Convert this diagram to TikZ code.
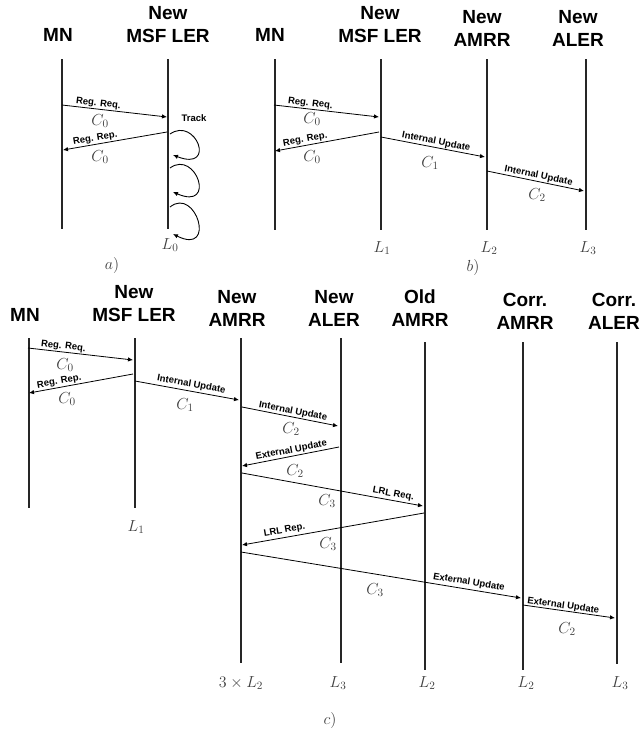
\RequirePackage{fix-cm}
\documentclass[tikz,border=0pt]{standalone}
\usepackage{fontspec}
\newfontfamily\hsans{Liberation Sans}
\usetikzlibrary{arrows.meta}
\begin{document}
\begin{tikzpicture}[x=1pt,y=-1pt,
  life/.style={line width=2.4pt, black!85},
  msg/.style={line width=0.8pt, -{Latex[length=5pt,width=4.5pt]}},
  loopy/.style={line width=0.9pt, -{Latex[length=5pt,width=4.5pt]}},
  hdr/.style={font=\hsans\bfseries\fontsize{19}{23}\selectfont, align=center, inner sep=0pt},
  lbl/.style={font=\hsans\bfseries\fontsize{9.5}{11}\selectfont, sloped, above, inner sep=0.8pt},
  cl/.style={font=\fontsize{16}{19}\selectfont, text=black!75, inner sep=0pt}]
\useasboundingbox (0,0) rectangle (642,729);

% ---------------- panel a ----------------
\node[hdr] (aMN) at (58,35) {MN};
\node[hdr] (aLER) at (168,24.5) {New\\MSF LER};
\coordinate (aMNt) at (62,59);  \coordinate (aMNb) at (62,229);
\coordinate (aLt) at (168,59);  \coordinate (aLb) at (168,229);
\draw[life] (aMNt) -- (aMNb);
\draw[life] (aLt) -- (aLb);
\coordinate (a1s) at (62,105);  \coordinate (a1e) at (167,117);
\coordinate (a2s) at (167,132); \coordinate (a2e) at (63,150);
\draw[msg] (a1s) -- node[lbl,pos=0.34] (a1l) {Reg. Req.} (a1e);
\draw[msg] (a2s) -- node[lbl,pos=0.68] (a2l) {Reg. Rep.} (a2e);
\node[cl] (a1c) at (100,121) {$C_0$};
\node[cl] (a2c) at (100,157) {$C_0$};
\node[font=\hsans\bfseries\fontsize{9.5}{11}\selectfont, inner sep=0pt] (track) at (194,118) {Track};
\coordinate (t1s) at (170,134); \coordinate (t1e) at (173,155);
\coordinate (t2s) at (170,168); \coordinate (t2e) at (173,192);
\coordinate (t3s) at (170,207); \coordinate (t3e) at (173,234);
\draw[loopy] (t1s) .. controls (196,116) and (217,172) .. (t1e);
\draw[loopy] (t2s) .. controls (196,149) and (217,211) .. (t2e);
\draw[loopy] (t3s) .. controls (196,186) and (217,256) .. (t3e);
\node[cl] (aL0) at (170,245) {$L_0$};
\node[cl] (acap) at (112,265) {$a)$};

% ---------------- panel b ----------------
\node[hdr] (bMN) at (270,35) {MN};
\node[hdr] (bLER) at (380,24.5) {New\\MSF LER};
\node[hdr] (bAMRR) at (482,28.5) {New\\AMRR};
\node[hdr] (bALER) at (578,28.5) {New\\ALER};
\coordinate (bMNt) at (275,59); \coordinate (bMNb) at (275,230);
\coordinate (bLt) at (381,59);  \coordinate (bLb) at (381,230);
\coordinate (bAt) at (487,59);  \coordinate (bAb) at (487,230);
\coordinate (bEt) at (586,59);  \coordinate (bEb) at (586,230);
\draw[life] (bMNt) -- (bMNb);
\draw[life] (bLt) -- (bLb);
\draw[life] (bAt) -- (bAb);
\draw[life] (bEt) -- (bEb);
\coordinate (b1s) at (274,105); \coordinate (b1e) at (379,117);
\coordinate (b2s) at (379,132); \coordinate (b2e) at (275,151);
\coordinate (b3s) at (381,137); \coordinate (b3e) at (485,157);
\coordinate (b4s) at (487,171); \coordinate (b4e) at (584,191);
\draw[msg] (b1s) -- node[lbl,pos=0.34] (b1l) {Reg. Req.} (b1e);
\draw[msg] (b2s) -- node[lbl,pos=0.70] (b2l) {Reg. Rep.} (b2e);
\draw[msg] (b3s) -- node[lbl,pos=0.52] (b3l) {Internal Update} (b3e);
\draw[msg] (b4s) -- node[lbl,pos=0.52] (b4l) {Internal Update} (b4e);
\node[cl] (b1c) at (312,119) {$C_0$};
\node[cl] (b2c) at (312,157) {$C_0$};
\node[cl] (b3c) at (430,163) {$C_1$};
\node[cl] (b4c) at (537,195) {$C_2$};
\node[cl] (bL1) at (382,248) {$L_1$};
\node[cl] (bL2) at (489,248) {$L_2$};
\node[cl] (bL3) at (588,248) {$L_3$};
\node[cl] (bcap) at (473,267) {$b)$};

% ---------------- panel c ----------------
\node[hdr] (cMN) at (25,315) {MN};
\node[hdr] (cLER) at (134,304) {New\\MSF LER};
\node[hdr] (cAMRR) at (237,308) {New\\AMRR};
\node[hdr] (cALER) at (334,308) {New\\ALER};
\node[hdr] (cOld) at (420,308) {Old\\AMRR};
\node[hdr] (cCA) at (525,311) {Corr.\\AMRR};
\node[hdr] (cCE) at (614,311) {Corr.\\ALER};
\coordinate (cMNt) at (29,338);  \coordinate (cMNb) at (29,508);
\coordinate (cLt) at (135,338);  \coordinate (cLb) at (135,508);
\coordinate (cAt) at (241,338);  \coordinate (cAb) at (241,663);
\coordinate (cEt) at (341,338);  \coordinate (cEb) at (341,663);
\coordinate (cOt) at (425,342);  \coordinate (cOb) at (425,670);
\coordinate (cCAt) at (523,342); \coordinate (cCAb) at (523,670);
\coordinate (cCEt) at (617,342); \coordinate (cCEb) at (617,664);
\draw[life] (cMNt) -- (cMNb);
\draw[life] (cLt) -- (cLb);
\draw[life] (cAt) -- (cAb);
\draw[life] (cEt) -- (cEb);
\draw[life] (cOt) -- (cOb);
\draw[life] (cCAt) -- (cCAb);
\draw[life] (cCEt) -- (cCEb);
\coordinate (c1s) at (28,348);  \coordinate (c1e) at (133,360);
\coordinate (c2s) at (133,374); \coordinate (c2e) at (29,393);
\coordinate (c3s) at (135,381); \coordinate (c3e) at (239,400);
\coordinate (c4s) at (242,407); \coordinate (c4e) at (338,426);
\coordinate (c5s) at (339,447); \coordinate (c5e) at (242,466);
\coordinate (c6s) at (242,473); \coordinate (c6e) at (423,506);
\coordinate (c7s) at (424,513); \coordinate (c7e) at (242,545);
\coordinate (c8s) at (241,552); \coordinate (c8e) at (521,598);
\coordinate (c9s) at (523,605); \coordinate (c9e) at (615,618);
\draw[msg] (c1s) -- node[lbl,pos=0.33] (c1l) {Reg. Req.} (c1e);
\draw[msg] (c2s) -- node[lbl,pos=0.70] (c2l) {Reg. Rep.} (c2e);
\draw[msg] (c3s) -- node[lbl,pos=0.53,inner sep=2pt] (c3l) {Internal Update} (c3e);
\draw[msg] (c4s) -- node[lbl,pos=0.52] (c4l) {Internal Update} (c4e);
\draw[msg] (c5s) -- node[lbl,pos=0.48,inner sep=1pt] (c5l) {External Update} (c5e);
\draw[msg] (c6s) -- node[lbl,pos=0.83,inner sep=1.5pt] (c6l) {LRL Req.} (c6e);
\draw[msg] (c7s) -- node[lbl,pos=0.76,inner sep=2pt] (c7l) {LRL Rep.} (c7e);
\draw[msg] (c8s) -- node[lbl,pos=0.81,inner sep=2pt] (c8l) {External Update} (c8e);
\draw[msg] (c9s) -- node[lbl,pos=0.43,inner sep=0pt] (c9l) {External Update} (c9e);
\node[cl] (c1c) at (65,365) {$C_0$};
\node[cl] (c2c) at (67,399) {$C_0$};
\node[cl] (c3c) at (185,405) {$C_1$};
\node[cl] (c4c) at (291,429) {$C_2$};
\node[cl] (c5c) at (295,471) {$C_2$};
\node[cl] (c6c) at (327,501) {$C_3$};
\node[cl] (c7c) at (328,544) {$C_3$};
\node[cl] (c8c) at (375,590) {$C_3$};
\node[cl] (c9c) at (567,629) {$C_2$};
\node[cl] (cL1) at (136,527) {$L_1$};
\node[cl] (cLa) at (241,683) {$3\times L_2$};
\node[cl] (cLb) at (338,683) {$L_3$};
\node[cl] (cLc) at (427,683) {$L_2$};
\node[cl] (cLd) at (526,683) {$L_2$};
\node[cl] (cLe) at (620,683) {$L_3$};
\node[cl] (ccap) at (330,720) {$c)$};
\end{tikzpicture}
\end{document}
